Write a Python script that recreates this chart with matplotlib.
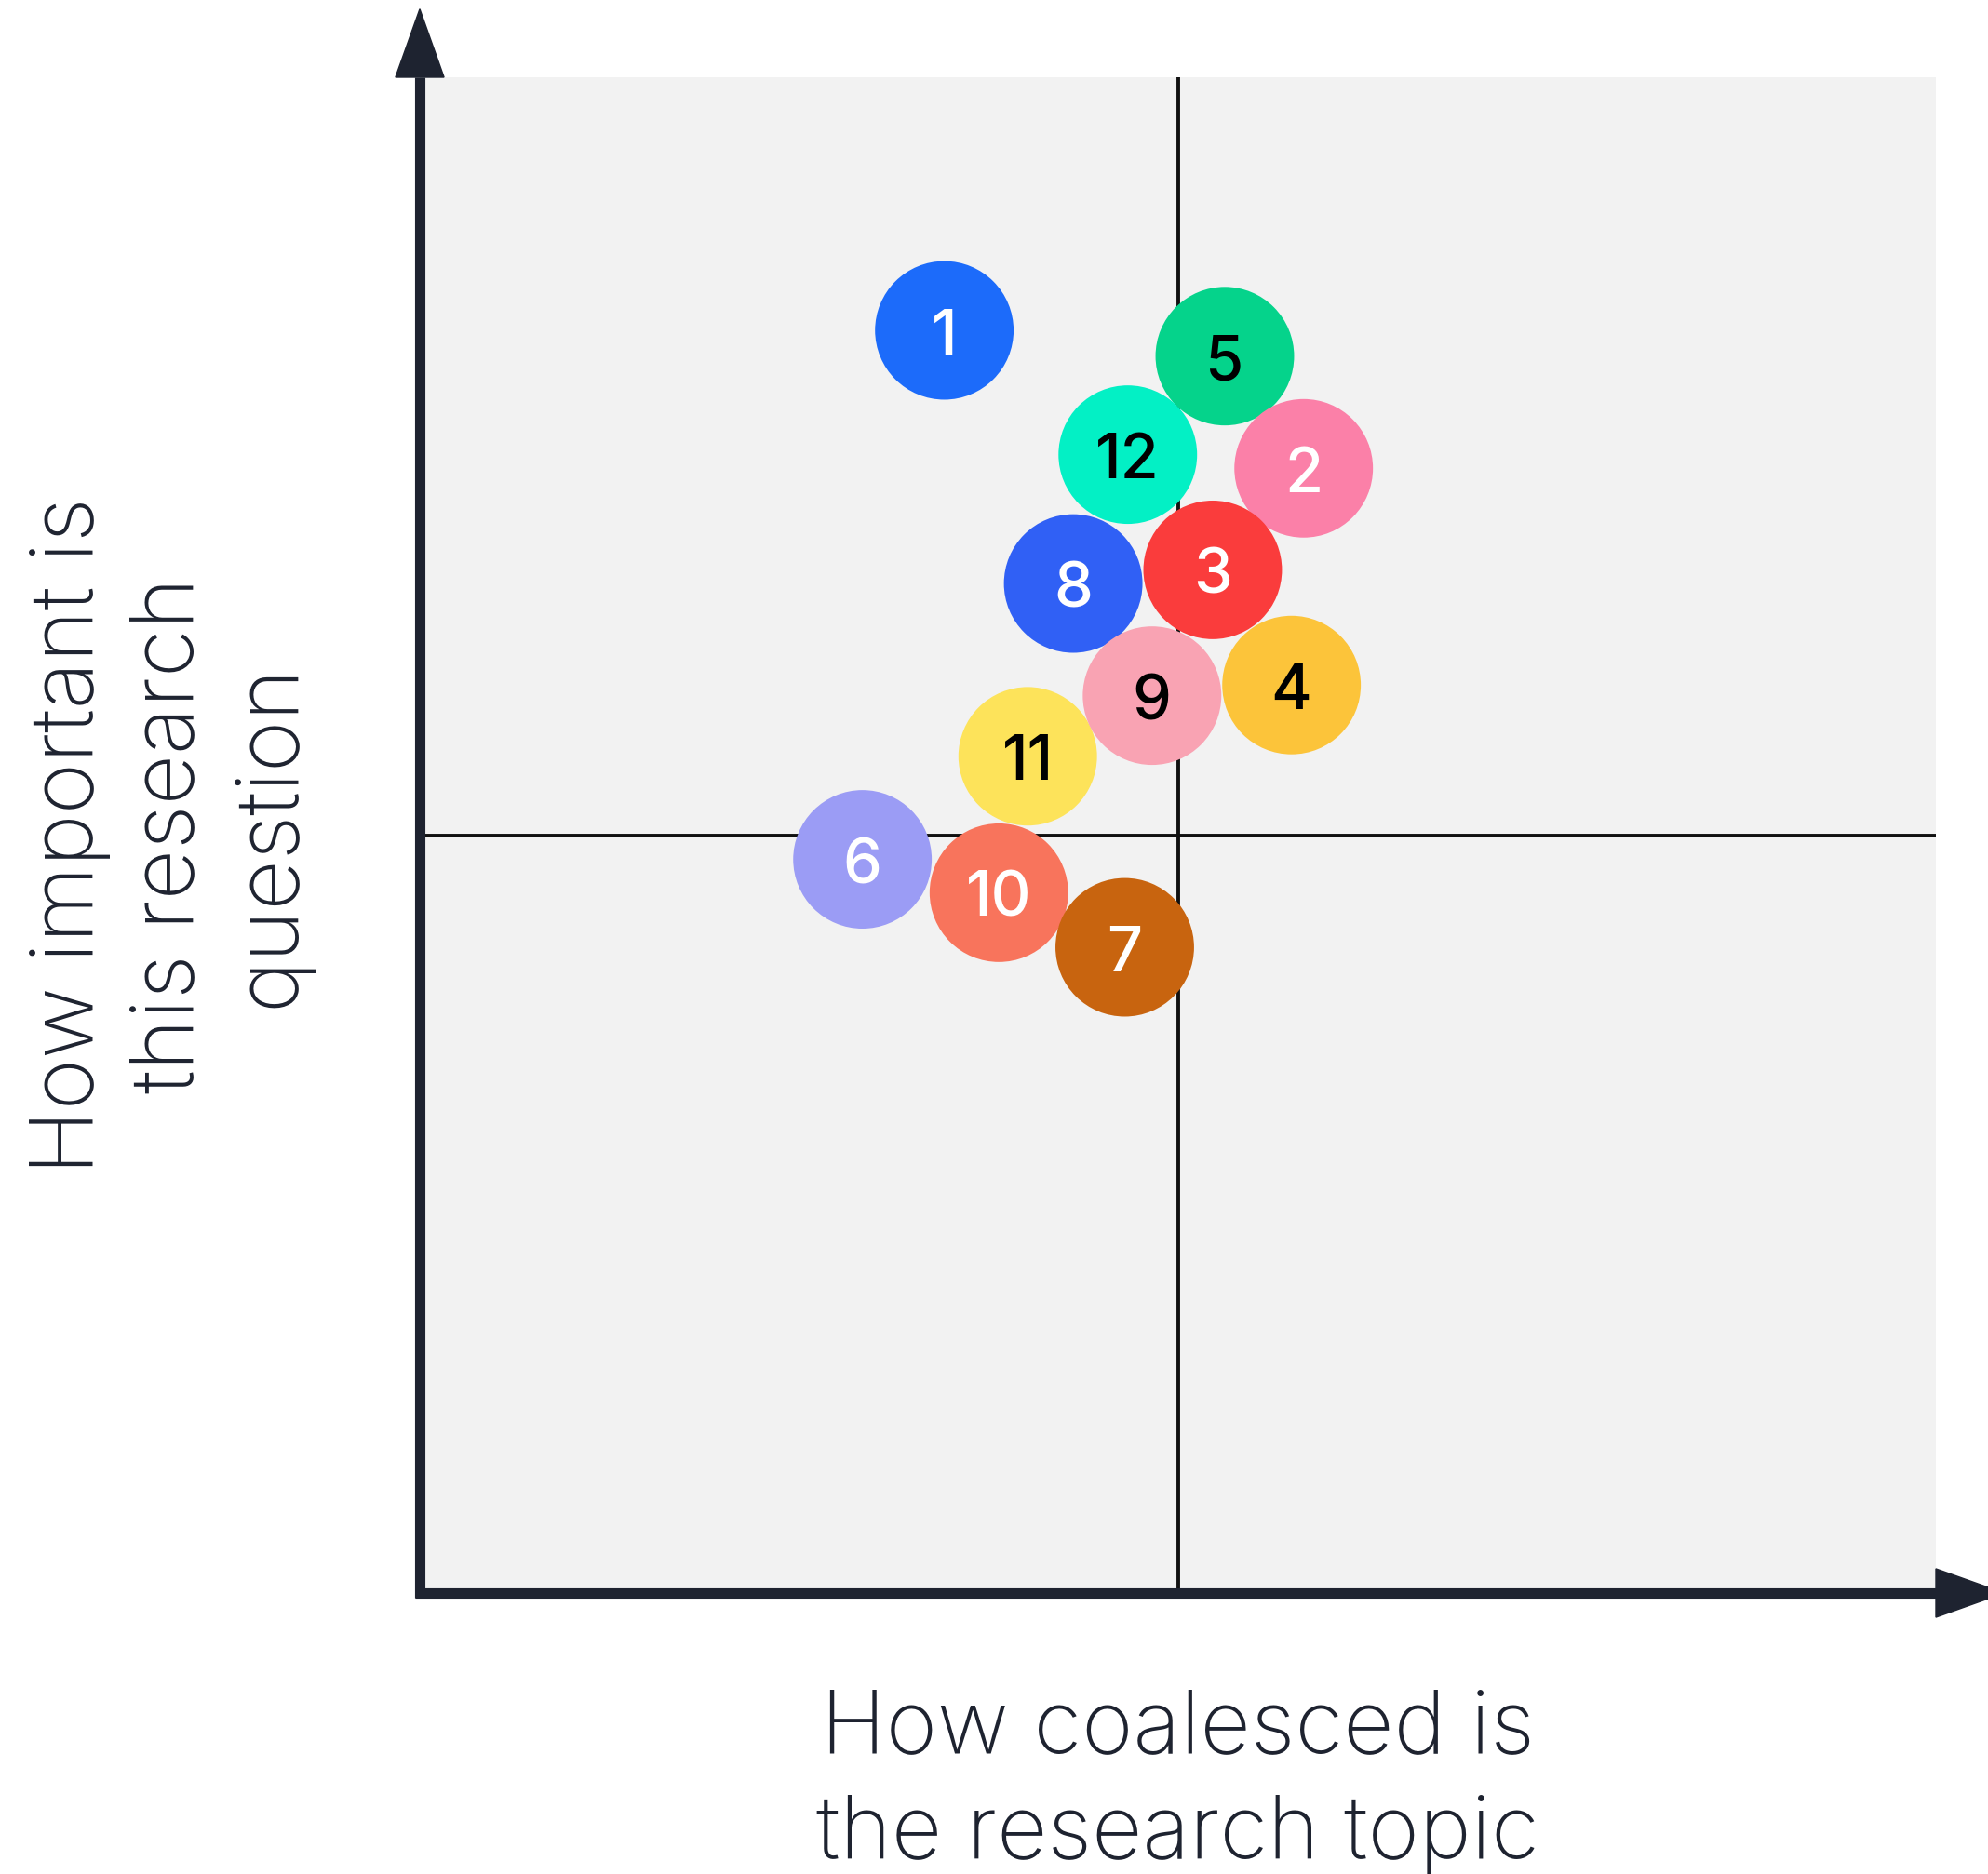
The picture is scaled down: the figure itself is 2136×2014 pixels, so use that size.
import matplotlib
matplotlib.use('Agg')
import matplotlib.pyplot as plt
from matplotlib.patches import Circle, Polygon

# bubbles, numbered 1..12
labels = ['1', '2', '3', '4', '5', '6', '7', '8', '9', '10', '11', '12']
coalesced = [3.46, 5.83, 5.23, 5.75, 5.31, 2.92, 4.65, 4.31, 4.83, 3.82, 4.01, 4.67]
importance = [8.33, 7.42, 6.75, 5.99, 8.16, 4.84, 4.26, 6.66, 5.92, 4.62, 5.52, 7.51]
colors = ['#1c6bfa', '#fb80a8', '#fa3c3c', '#fcc43a', '#05d38b', '#9b9cf5',
          '#c8640f', '#3060f5', '#f9a3b3', '#f8745c', '#fde35a', '#03f0c5']
text_colors = ['white', 'white', 'white', 'black', 'black', 'white',
               'white', 'white', 'black', 'white', 'black', 'black']
draw_order = [1, 5, 12, 2, 8, 3, 11, 9, 4, 6, 10, 7]

xlabel_lines = ['How coalesced is', 'the research topic']
ylabel = 'How important is\nthis research\nquestion'

W, H = 2136, 2015
fig = plt.figure(figsize=(W / 100, H / 100), dpi=100)
ax = fig.add_axes([451 / W, 1 - 1713 / H, 1629 / W, 1629 / H])
ax.set_xlim(0, 10)
ax.set_ylim(0, 10)
ax.set_facecolor('#f2f2f2')
for s in ax.spines.values():
    s.set_visible(False)
ax.set_xticks([])
ax.set_yticks([])

ink = '#1e2330'
fonts = ['Inter', 'DejaVu Sans']

# quadrant lines
ax.axvline(5, color='#111111', lw=2.8, zorder=1)
ax.axhline(5, color='#111111', lw=2.8, zorder=1)

# axes with arrow heads
ax.plot([0, 0], [-0.03, 10], color=ink, lw=8, clip_on=False, zorder=5, solid_capstyle='butt')
ax.plot([-0.03, 10], [0, 0], color=ink, lw=8, clip_on=False, zorder=5, solid_capstyle='butt')
ax.add_patch(Polygon([[-0.16, 10], [0.16, 10], [0, 10.45]], closed=True,
                     color=ink, clip_on=False, zorder=5))
ax.add_patch(Polygon([[10, -0.16], [10, 0.16], [10.45, 0]], closed=True,
                     color=ink, clip_on=False, zorder=5))

for n in draw_order:
    i = n - 1
    ax.add_patch(Circle((coalesced[i], importance[i]), 0.457, color=colors[i],
                        lw=0, zorder=3))
    ax.text(coalesced[i], importance[i], labels[i], ha='center', va='center_baseline',
            fontsize=48, color=text_colors[i], family=fonts, fontweight='medium', zorder=4)

for k, line in enumerate(xlabel_lines):
    fig.text(1265 / W, 1 - (1883 + 114 * k) / H, line, ha='center', va='baseline',
             fontsize=68, color=ink, family=fonts, fontweight='light')
fig.text(183 / W, 1 - 898 / H, ylabel, ha='center', va='center', fontsize=68,
         rotation=90, color=ink, family=fonts, fontweight='light', linespacing=1.3)

fig.savefig('out.png', dpi=100, facecolor='white')
